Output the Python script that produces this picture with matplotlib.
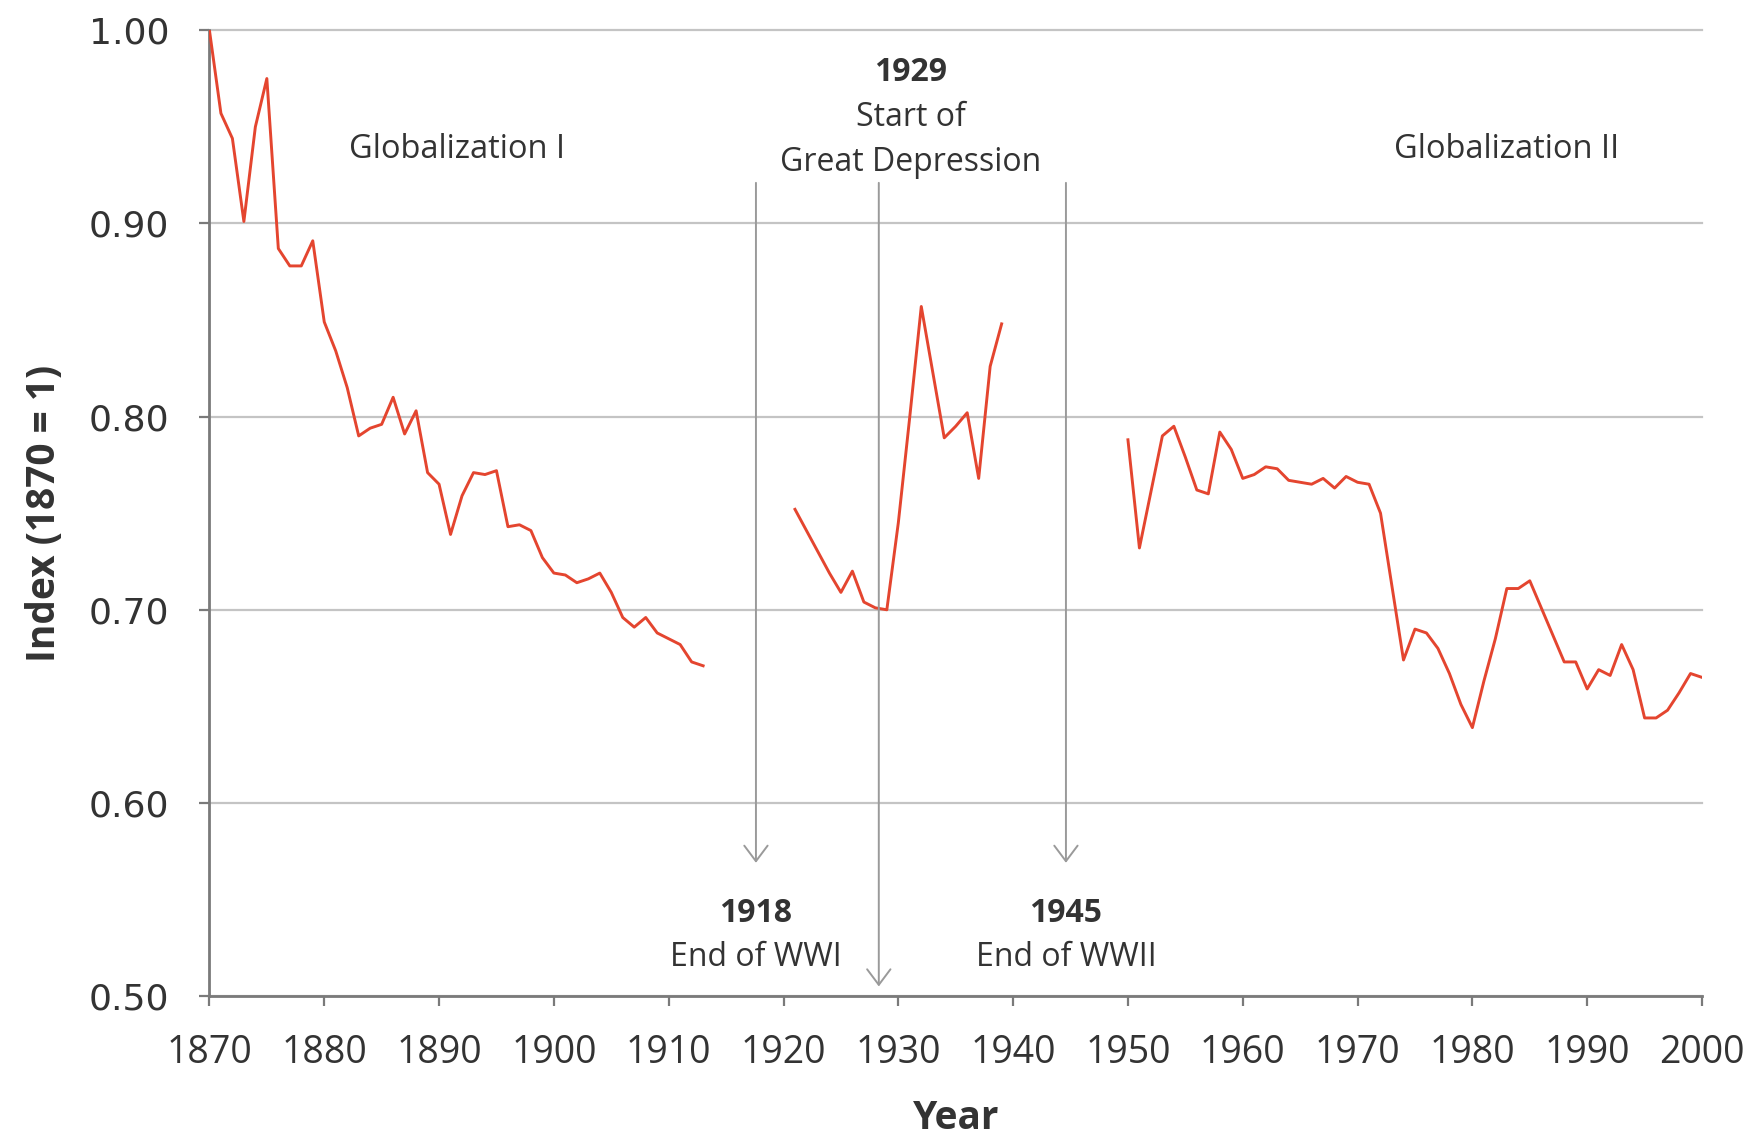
import matplotlib
matplotlib.use('Agg')
import matplotlib.pyplot as plt

# Globalisierung I: 1870-1913
anos_1 = list(range(1870, 1914))
indice_1 = [1.000, 0.957, 0.944, 0.901, 0.950, 0.975, 0.887, 0.878, 0.878, 0.891,
            0.849, 0.834, 0.815, 0.790, 0.794, 0.796, 0.810, 0.791, 0.803, 0.771,
            0.765, 0.739, 0.759, 0.771, 0.770, 0.772, 0.743, 0.744, 0.741, 0.727,
            0.719, 0.718, 0.714, 0.716, 0.719, 0.709, 0.696, 0.691, 0.696, 0.688,
            0.685, 0.682, 0.673, 0.671]

# entre guerras: 1921-1939
anos_2 = list(range(1921, 1940))
indice_2 = [0.752, 0.741, 0.730, 0.719, 0.709, 0.720, 0.704, 0.701, 0.700, 0.745,
            0.800, 0.857, 0.823, 0.789, 0.795, 0.802, 0.768, 0.826, 0.848]

# Globalization II: 1950-2000
anos_3 = list(range(1950, 2001))
indice_3 = [0.788, 0.732, 0.761, 0.790, 0.795, 0.779, 0.762, 0.760, 0.792, 0.783,
            0.768, 0.770, 0.774, 0.773, 0.767, 0.766, 0.765, 0.768, 0.763, 0.769,
            0.766, 0.765, 0.750, 0.712, 0.674, 0.690, 0.688, 0.680, 0.667, 0.651,
            0.639, 0.663, 0.685, 0.711, 0.711, 0.715, 0.701, 0.687, 0.673, 0.673,
            0.659, 0.669, 0.666, 0.682, 0.669, 0.644, 0.644, 0.648, 0.657, 0.667,
            0.665]

x_ticks = list(range(1870, 2001, 10))
y_ticks = [0.50, 0.60, 0.70, 0.80, 0.90, 1.00]

eventos_ano = ['1918', '1929', '1945']
eventos_texto = ['End of WWI', 'Start of\nGreat Depression', 'End of WWII']

VERMELHO = '#e4452f'
CINZA_TEXTO = '#333333'
CINZA_EIXO = '#7a7a7a'
CINZA_GRADE = '#c4c4c4'
CINZA_SETA = '#9a9a9a'
FONTE = ['Open Sans', 'DejaVu Sans']

plt.rcParams['font.family'] = FONTE

fig = plt.figure(figsize=(17.57, 11.37), dpi=100)
ax = fig.add_axes([0.1192, 0.1239, 0.8495, 0.8495])

# Plota os tres trechos da serie
for anos, indice in [(anos_1, indice_1), (anos_2, indice_2), (anos_3, indice_3)]:
    ax.plot(anos, indice, color=VERMELHO, linewidth=2.1, zorder=3)

ax.set_xlim(1870, 2000)
ax.set_ylim(0.5, 1.0)
ax.set_xticks(x_ticks)
ax.set_yticks(y_ticks)
ax.set_xticklabels([str(a) for a in x_ticks], fontsize=27, color=CINZA_TEXTO)
ax.set_yticklabels([f'{v:.2f}' for v in y_ticks], fontsize=26, color=CINZA_TEXTO,
                   family='DejaVu Sans')

ax.grid(axis='y', color=CINZA_GRADE, linewidth=1.6)
for linha in ax.get_ygridlines():
    linha.set_clip_on(False)
ax.set_axisbelow(True)

for lado in ['top', 'right']:
    ax.spines[lado].set_visible(False)
for lado in ['left', 'bottom']:
    ax.spines[lado].set_color(CINZA_EIXO)
    ax.spines[lado].set_linewidth(2)
ax.tick_params(axis='x', length=7, width=1.6, color=CINZA_EIXO, pad=20)
ax.tick_params(axis='y', length=7, width=1.6, color=CINZA_EIXO, pad=22)

ax.set_xlabel('Year', fontsize=28, fontweight='bold', color=CINZA_TEXTO, labelpad=20)
ax.set_ylabel('Index (1870 = 1)', fontsize=28, fontweight='bold', color=CINZA_TEXTO,
              labelpad=18)

# Rotulos das fases
ax.text(1891.6, 0.9385, 'Globalization I', fontsize=23.5, color=CINZA_TEXTO,
        ha='center', va='center')
ax.text(1983.0, 0.9385, 'Globalization II', fontsize=23.5, color=CINZA_TEXTO,
        ha='center', va='center')

# Setas dos eventos
setas_x = [1917.6, 1928.3, 1944.6]
setas_fim = [0.569, 0.505, 0.569]
for x, y_fim in zip(setas_x, setas_fim):
    ax.annotate('', xy=(x, y_fim), xytext=(x, 0.921),
                arrowprops=dict(arrowstyle='->,head_length=0.4,head_width=0.3',
                                color=CINZA_SETA, lw=1.4, mutation_scale=28,
                                shrinkA=0, shrinkB=0))

# 1918 e 1945 abaixo das setas
for ano, texto, x in [(eventos_ano[0], eventos_texto[0], setas_x[0]),
                      (eventos_ano[2], eventos_texto[2], setas_x[2])]:
    ax.text(x, 0.543, ano, fontsize=23, fontweight='bold', color=CINZA_TEXTO,
            ha='center', va='center')
    ax.text(x, 0.520, texto, fontsize=23, color=CINZA_TEXTO, ha='center', va='center')

# 1929 acima
ax.text(1931.1, 0.978, eventos_ano[1], fontsize=23, fontweight='bold',
        color=CINZA_TEXTO, ha='center', va='center')
for i, parte in enumerate(eventos_texto[1].split('\n')):
    ax.text(1931.1, 0.9547 - i * 0.0233, parte, fontsize=23, color=CINZA_TEXTO,
            ha='center', va='center')

fig.savefig('out.png', dpi=100, facecolor='white')
